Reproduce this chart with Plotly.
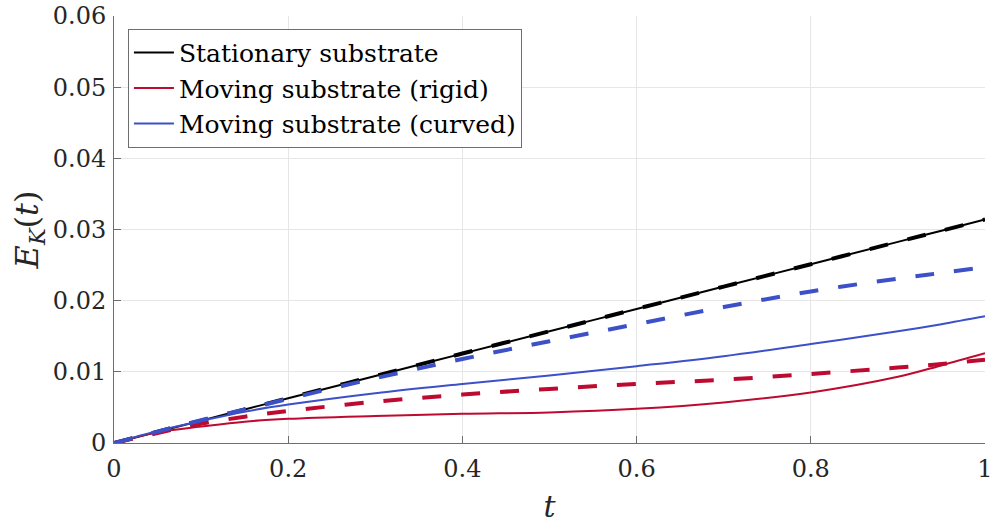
import plotly.graph_objects as go

t = [0.0, 0.05, 0.1, 0.15, 0.2, 0.3, 0.4, 0.5, 0.6, 0.7, 0.8, 0.9, 0.95, 1.0]

stationary = [0.0, 0.00157, 0.00314, 0.00471, 0.00628, 0.00942, 0.01256, 0.0157,
              0.01884, 0.02198, 0.02512, 0.02826, 0.02983, 0.0314]
stationary_dash = [0.0, 0.00158, 0.00315, 0.00472, 0.0063, 0.00943, 0.01257, 0.0157,
                   0.01884, 0.02198, 0.02512, 0.02826, 0.02983, 0.0314]
rigid = [0.0, 0.0015, 0.0023, 0.0030, 0.0034, 0.0038, 0.0041, 0.0043,
         0.0048, 0.0057, 0.0071, 0.0093, 0.0109, 0.0126]
rigid_dash = [0.0, 0.0014, 0.0027, 0.0037, 0.0045, 0.0058, 0.0068, 0.0076,
              0.0083, 0.0089, 0.0097, 0.0106, 0.0111, 0.0117]
curved = [0.0, 0.0017, 0.0031, 0.0044, 0.0054, 0.0070, 0.0083, 0.0095,
          0.0108, 0.0122, 0.0139, 0.0157, 0.0167, 0.0178]
curved_dash = [0.0, 0.0016, 0.0032, 0.0047, 0.0062, 0.0091, 0.0118, 0.0143,
               0.0167, 0.0191, 0.0213, 0.0231, 0.0239, 0.0247]

names = ["Stationary substrate", "Moving substrate (rigid)", "Moving substrate (curved)"]
BLACK = "#000000"
RED = "#BD0A30"
BLUE = "#3C50C8"

x_ticks = [0, 0.2, 0.4, 0.6, 0.8, 1]
x_labels = ["0", "0.2", "0.4", "0.6", "0.8", "1"]
y_ticks = [0, 0.01, 0.02, 0.03, 0.04, 0.05, 0.06]
y_labels = ["0", "0.01", "0.02", "0.03", "0.04", "0.05", "0.06"]

FONT = "DejaVu Serif"
DASH = "19px,20px"

fig = go.Figure()
fig.add_trace(go.Scatter(x=t, y=stationary, mode="lines", name=names[0],
                         line=dict(color=BLACK, width=2, shape="spline")))
fig.add_trace(go.Scatter(x=t, y=stationary_dash, mode="lines", showlegend=False,
                         line=dict(color=BLACK, width=4, dash=DASH, shape="spline")))
fig.add_trace(go.Scatter(x=t, y=rigid_dash, mode="lines", showlegend=False,
                         line=dict(color=RED, width=4, dash=DASH, shape="spline")))
fig.add_trace(go.Scatter(x=t, y=rigid, mode="lines", name=names[1],
                         line=dict(color=RED, width=2, shape="spline")))
fig.add_trace(go.Scatter(x=t, y=curved_dash, mode="lines", showlegend=False,
                         line=dict(color=BLUE, width=4, dash=DASH, shape="spline")))
fig.add_trace(go.Scatter(x=t, y=curved, mode="lines", name=names[2],
                         line=dict(color=BLUE, width=2, shape="spline")))

axis_common = dict(
    showline=True, linecolor="#6e6e6e", linewidth=1,
    ticks="inside", ticklen=7, tickcolor="#6e6e6e", tickwidth=1,
    showgrid=True, gridcolor="#e6e6e6", gridwidth=1,
    zeroline=False, tickfont=dict(family=FONT, size=24, color="#262626"),
    mirror=False, automargin=False,
)

fig.update_layout(
    width=997, height=525,
    margin=dict(l=114, r=12, t=16, b=82),
    paper_bgcolor="white", plot_bgcolor="white",
    font=dict(family=FONT, color="#262626"),
    xaxis=dict(range=[0, 1], tickvals=x_ticks, ticktext=x_labels,
               title=dict(text="<i>t</i>", font=dict(family=FONT, size=30), standoff=14),
               ticklabelstandoff=4,
               **axis_common),
    yaxis=dict(range=[0, 0.06], tickvals=y_ticks, ticktext=y_labels,
               title=dict(text="<i>E</i><sub><i>K</i></sub>(<i>t</i>)",
                          font=dict(family=FONT, size=32), standoff=4),
               ticklabelstandoff=2,
               **axis_common),
    legend=dict(x=0.016, y=0.97, xanchor="left", yanchor="top",
                bgcolor="white", bordercolor="#6e6e6e", borderwidth=1,
                font=dict(family=FONT, size=25, color="#000000"),
                itemwidth=40, tracegroupgap=0),
    showlegend=True,
)

fig.write_html("out.html")
